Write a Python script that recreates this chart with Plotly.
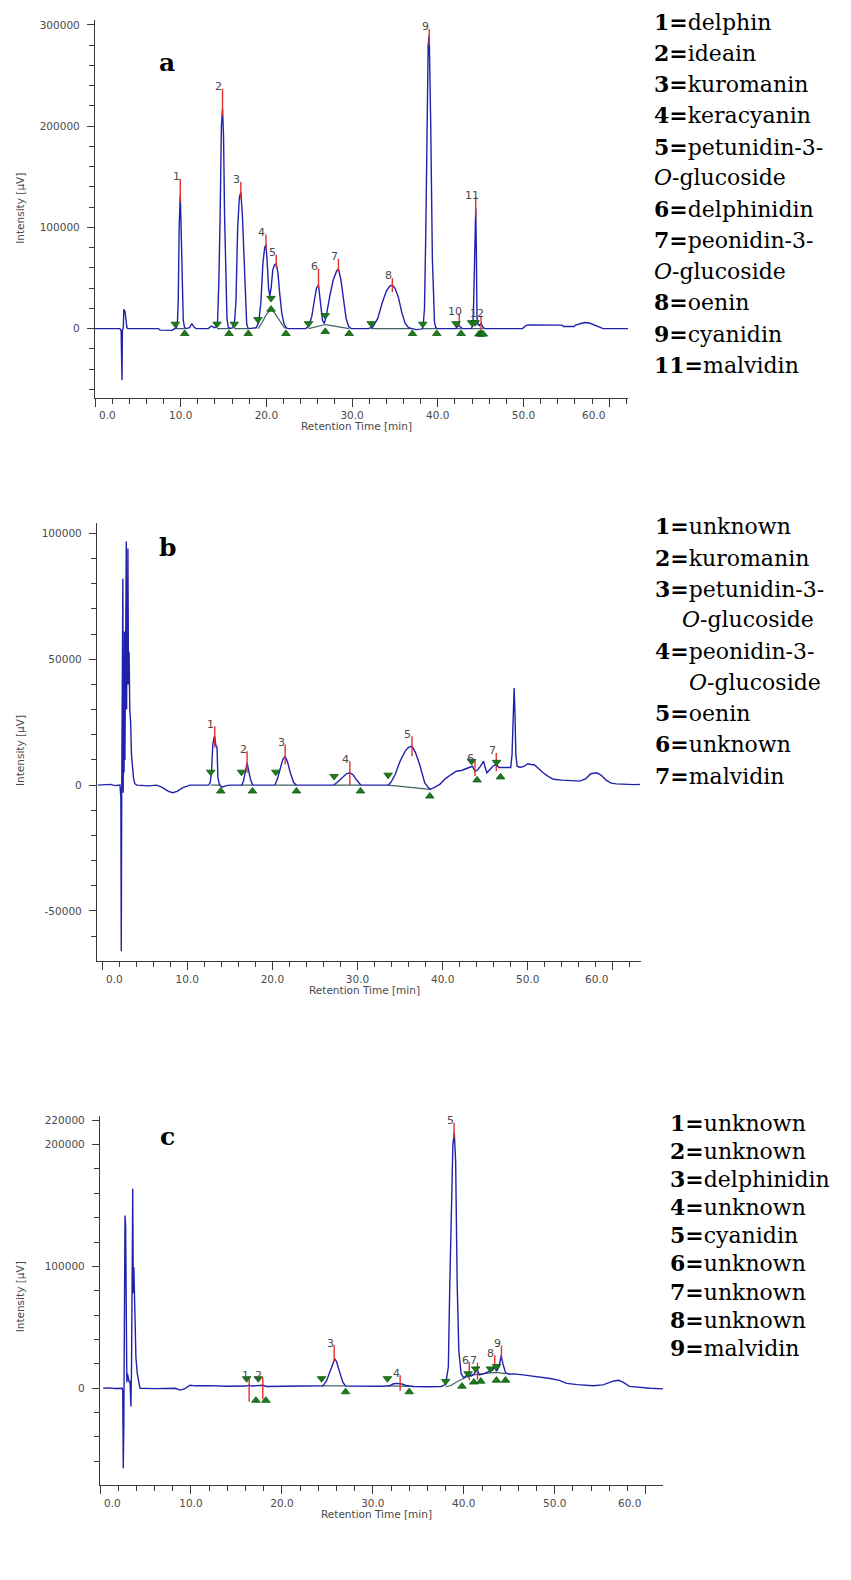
import plotly.graph_objects as go

WIN_W, WIN_H = 851, 1580
OFF = 8                      # default body margin of the page
FW, FH = WIN_W - OFF, WIN_H - OFF

# ---------------- Panel a ----------------
a_time = [0.0, 2.9, 3.05, 3.15, 3.2, 3.3, 3.36, 3.5, 3.6, 3.72, 3.85, 7.4, 7.6, 9.0, 9.3,
          9.5, 9.62, 9.72, 9.82, 9.9, 9.95, 10.02, 10.1, 10.2, 10.3, 10.45, 10.6,
          11.05, 11.3, 11.55, 11.8, 13.2, 13.6, 13.95,
          14.15, 14.3, 14.45, 14.6, 14.75, 14.88, 15.0, 15.12, 15.25, 15.4, 15.55, 15.75,
          16.1, 16.3, 16.45, 16.65, 16.85, 17.02, 17.2, 17.38, 17.55, 17.7, 17.85, 18.0,
          18.8, 19.1, 19.35, 19.6, 19.8, 19.95, 20.1, 20.25, 20.4, 20.55, 20.75, 20.95, 21.15,
          21.35, 21.55, 21.8, 22.05, 22.3, 22.5,
          24.6, 24.95, 25.3, 25.6, 25.85, 26.08, 26.3, 26.55, 26.75,
          27.0, 27.4, 27.8, 28.2, 28.41, 28.7, 29.0, 29.3, 29.6, 29.9,
          31.9, 32.4, 33.0, 33.5, 34.0, 34.4, 34.7, 35.0, 35.4, 35.8, 36.2, 36.6, 37.0, 37.5, 38.0,
          38.2, 38.3, 38.45, 38.6, 38.72, 38.88, 39.0, 39.1, 39.18, 39.37, 39.49, 39.62, 39.75, 39.9,
          42.1, 42.35, 42.5, 42.65, 42.85,
          43.9, 44.1, 44.2, 44.3, 44.38, 44.43, 44.5, 44.58, 44.7,
          44.85, 45.05, 45.3, 45.5,
          49.9, 50.2, 50.5, 54.5, 54.7, 55.9, 56.1, 56.7, 57.2, 57.7, 58.4, 59.0, 59.3, 62.2]
a_signal = [0, 0, -2000, -51000, -1000, 0, 19000, 17000, 10000, 1000, 0, 0, -1500, -1800, 0,
            1000, 6000, 30000, 100000, 128000, 132000, 110000, 75000, 30000, 8000, 1000, 0,
            1000, 5000, 1500, 0, 0, 2500, 800,
            1500, 6000, 45000, 110000, 200000, 217000, 190000, 112000, 45000, 10000, 1500, 0,
            800, 8000, 27000, 100000, 130000, 135000, 112000, 75000, 25000, 5000, 500, 0,
            800, 6000, 25000, 65000, 80000, 83000, 65000, 40000, 32000, 40000, 58000, 63000, 64000,
            55000, 35000, 15000, 5000, 1000, 0,
            0, 2500, 12000, 28000, 40000, 43000, 25000, 8000, 5000,
            13000, 32000, 48000, 57000, 59000, 48000, 28000, 10000, 2000, 0,
            0, 1500, 10000, 25000, 37000, 42000, 43000, 40000, 31000, 16000, 5000, 800, 0, -1000, -500,
            0, 3000, 20000, 93000, 165000, 280000, 290000, 250000, 201000, 69000, 27000, 6000, 1500, 0,
            0, 2000, 3500, 1500, 0,
            0, 3000, 30000, 66000, 110000, 119000, 80000, 10000, 4000,
            3000, 5000, 1000, 0,
            0, 2500, 3600, 3400, 2000, 2000, 3500, 5000, 6000, 5500, 3000, 500, 0, 0]
a_peak_labels = ["1", "2", "3", "4", "5", "6", "7", "8", "9", "10", "11", "12"]
a_apex_t = [9.95, 14.88, 17.02, 19.95, 21.15, 26.08, 28.41, 34.7, 39.0, 42.5, 44.43, 45.05]
a_mark_bot = [125000, 210000, 128000, 78000, 60000, 40000, 56000, 36000, 280000, 2000, 110000, -3000]
a_mark_top = [148000, 237000, 145000, 93000, 73000, 59000, 69000, 50000, 296000, 15000, 130000, 13000]
a_start_t = [9.38, 14.24, 16.26, 19.02, 20.54, 24.92, 26.87, 32.23, 38.25, 42.13, 43.96, 44.35]
a_start_v = [4500, 4500, 4500, 9000, 30000, 5000, 13000, 5000, 4500, 5000, 6000, 6000]
a_end_t = [10.47, 15.64, 17.89, 20.54, 22.28, 26.87, 29.66, 37.04, 39.88, 42.72, 44.81, 45.0, 45.15, 45.31]
a_end_v = [-5000, -5000, -5000, 19000, -5000, -3000, -5000, -5000, -5000, -5000, -5500, -5500, -5500, -5500]
a_base_t = [9.38, 10.47, None, 14.24, 15.64, None, 16.26, 17.89, None,
            19.02, 19.5, 20.0, 20.54, 21.0, 21.5, 22.0, 22.28, None,
            24.92, 25.5, 26.3, 26.87, 27.6, 28.5, 29.66, None, 32.23, 37.04, None,
            38.25, 39.88, None, 42.13, 42.72, None, 43.96, 45.31]
a_base_v = [0, 0, None, 0, 0, None, 0, 0, None,
            0, 6000, 14000, 19000, 15000, 8000, 2000, 0, None,
            0, 1000, 3000, 4000, 3000, 2000, 0, None, 0, 0, None,
            0, 0, None, 0, 0, None, 0, 0]
a_legend_num = ["1=", "2=", "3=", "4=", "5=", "", "6=", "7=", "", "8=", "9=", "11="]
a_legend_txt = ["delphin", "ideain", "kuromanin", "keracyanin", "petunidin-3-",
                "<i>O</i>-glucoside", "delphinidin", "peonidin-3-", "<i>O</i>-glucoside",
                "oenin", "cyanidin", "malvidin"]
a_legend_indent = [0, 0, 0, 0, 0, 0, 0, 0, 0, 0, 0, 0]

# ---------------- Panel b ----------------
b_time = [-0.5, 1.0, 1.5, 2.1, 2.2, 2.25, 2.3, 2.38, 2.44, 2.48, 2.52, 2.58, 2.63, 2.68, 2.73,
          2.78, 2.84, 2.88, 2.93, 2.98, 3.03, 3.1, 3.17, 3.25, 3.35, 3.45, 3.55, 3.7, 3.85, 4.1,
          5.5, 6.4, 7.0, 7.8, 8.3, 8.8, 9.5, 10.3,
          12.5, 12.7, 12.85, 13.0, 13.15, 13.23, 13.35, 13.5, 13.6, 13.8, 14.1, 14.5, 15.0,
          16.4, 16.6, 16.85, 17.03, 17.2, 17.45, 17.7,
          20.3, 20.6, 20.9, 21.2, 21.5, 21.8, 22.1, 22.5, 22.8,
          27.2, 27.6, 28.2, 28.7, 29.1, 29.5, 29.9, 30.4,
          33.6, 33.9, 34.4, 35.0, 35.6, 36.0, 36.4, 36.8, 37.3, 37.9, 38.5, 39.0, 39.7,
          40.3, 41.0, 41.6, 42.2, 42.7, 43.2, 43.5, 43.8, 44.1, 44.45, 44.8, 45.0, 45.2, 45.5,
          45.9, 46.3, 46.6, 47.0, 47.5, 48.0, 48.15, 48.3, 48.4, 48.5, 48.6, 48.75, 49.1, 49.6,
          50.0, 50.4, 50.8, 51.3, 51.8, 52.4, 53.0, 54.0, 55.0, 56.1, 56.8, 57.4, 58.1, 58.6,
          59.2, 59.8, 60.4, 61.5, 62.5, 63.2]
b_signal = [0, 300, -200, 0, -5000, -66000, -4000, 62000, 82000, -3000, 40000, 5000, 61000, 10000, 50000,
            20000, 96800, 30000, 75000, 40000, 94000, 40000, 53000, 30000, 25000, 12000, 7000, 2500, 500, 0,
            -300, 0, -800, -2500, -3000, -2500, -1000, 0,
            0, 1000, 5500, 16000, 19000, 19400, 16000, 14800, 3000, 0, -800, -300, 0,
            0, 1500, 6000, 8800, 6000, 2000, 0,
            0, 2500, 6900, 10000, 11500, 9000, 5000, 1000, 0,
            0, 1000, 3000, 4500, 4900, 4000, 2000, 0,
            0, 1000, 4000, 9500, 13500, 15000, 15500, 13000, 8200, 900, -1700, -1000, 400,
            2500, 4200, 5500, 5800, 6500, 6900, 7500, 5500, 6000, 7500, 9500, 7000, 4900, 6000,
            7500, 8200, 7000, 7000, 6900, 7000, 12000, 25000, 38600, 28000, 12000, 7500, 7000, 7500,
            8500, 8200, 8000, 6500, 4900, 3500, 2300, 2000, 1800, 1600, 2500, 4500, 4900, 4000,
            2000, 800, 500, 300, 200, 300]
b_peak_labels = ["1", "2", "3", "4", "5", "6", "7"]
b_apex_t = [13.23, 17.03, 21.5, 29.1, 36.4, 43.8, 46.3]
b_mark_bot = [14800, 4900, 8200, 0, 11500, 3600, 5500]
b_mark_top = [23400, 13500, 16100, 9500, 19400, 9900, 12800]
b_start_t = [12.76, 16.37, 20.4, 27.25, 33.6, 43.4, 46.33]
b_start_v = [5200, 5200, 5200, 3500, 4000, 9500, 9100]
b_end_t = [13.94, 17.66, 22.83, 30.35, 38.5, 44.05, 46.8]
b_end_v = [-2400, -2400, -2400, -2400, -4400, 2000, 3200]
b_base_t = [12.76, 13.94, None, 16.37, 17.66, None, 20.4, 22.83, None, 27.25, 30.35, None, 33.6, 38.5]
b_base_v = [0, 0, None, 0, 0, None, 0, 0, None, 0, 0, None, 0, -1700]
b_legend_num = ["1=", "2=", "3=", "", "4=", "", "5=", "6=", "7="]
b_legend_txt = ["unknown", "kuromanin", "petunidin-3-", "<i>O</i>-glucoside", "peonidin-3-",
                "<i>O</i>-glucoside", "oenin", "unknown", "malvidin"]
b_legend_indent = [0, 0, 0, 27, 0, 34, 0, 0, 0]

# ---------------- Panel c ----------------
c_time = [0.36, 1.0, 1.6, 2.2, 2.45, 2.5, 2.56, 2.62, 2.68, 2.75, 2.82, 2.88, 2.95, 3.02, 3.1,
          3.2, 3.3, 3.4, 3.47, 3.52, 3.6, 3.66, 3.72, 3.78, 3.85, 3.95, 4.1, 4.25, 4.4,
          6.0, 8.3, 8.8, 9.3, 9.9, 10.5, 12.0, 14.0, 16.0, 16.4, 16.7, 17.9, 18.3, 20.0,
          24.0, 24.5, 24.9, 25.3, 25.6, 25.8, 26.0, 26.4, 26.7, 27.0, 29.0, 31.0,
          31.8, 32.2, 32.6, 33.2, 33.8, 34.5, 36.0, 37.5,
          38.0, 38.15, 38.3, 38.46, 38.65, 38.8, 38.95, 39.1, 39.27, 39.45, 39.7,
          40.0, 40.4, 40.6, 40.8, 41.1, 41.45, 41.7, 42.2, 42.8, 43.2, 43.4, 43.6, 43.9, 44.1,
          44.3, 44.6, 45.0, 45.5, 46.5, 47.5, 48.4, 49.5, 50.5, 51.3, 52.5, 54.2, 55.3, 55.8,
          56.5, 57.0, 57.5, 58.2, 59.5, 60.5, 61.9]
c_signal = [0, 300, -200, 200, 0, -3000, -65600, -29000, 130000, 141800, 133000, 20000, 5000, 12000, 9000,
            5000, 6000, -15000, 20000, 78000, 163700, 78000, 99400, 80000, 39300, 25000, 12000, 4000, 0,
            -300, 0, -1500, -500, 2500, 2000, 2200, 1600, 1800, 2500, 1800, 2500, 1500, 1600,
            1800, 2000, 6000, 13400, 20000, 24300, 22000, 12000, 5000, 1800, 1500, 1600,
            2000, 3500, 4000, 3500, 2000, 1500, 1200, 1500,
            3000, 9000, 17500, 86000, 154000, 200000, 210000, 187000, 86000, 31000, 12000,
            8500, 11000, 13500, 10000, 11500, 15500, 11000, 12000, 14000, 15000, 17500, 14000, 18000, 27000,
            20000, 12500, 11500, 11800, 11000, 10000, 9300, 8000, 6500, 4000, 3000, 2000, 2800, 4000,
            6000, 6500, 5000, 1500, 500, 0, -500]
c_peak_labels = ["1", "2", "3", "4", "5", "6", "7", "8", "9"]
c_apex_t = [16.4, 17.9, 25.75, 33.0, 38.93, 40.6, 41.5, 43.4, 44.14]
c_mark_bot = [-11000, -9000, 22000, -2000, 205000, 6500, 7000, 17500, 24300]
c_mark_top = [9000, 9000, 35200, 10600, 218000, 21500, 21000, 27000, 35000]
c_start_t = [16.12, 17.4, 24.36, 31.6, 38.0, 40.47, 41.3, 42.93, 43.59]
c_start_v = [8000, 8000, 8000, 8000, 5700, 12000, 16000, 16000, 18000]
c_end_t = [17.14, 18.24, 27.0, 34.0, 39.8, 41.1, 41.87, 43.59, 44.58]
c_end_v = [-10000, -10000, -3000, -3000, 1600, 5000, 5700, 6500, 6500]
c_base_t = [24.36, 27.0, None, 31.6, 34.0, None, 38.0, 38.6, 39.3, 40.0, 40.5, 41.0, 41.5, 42.5, 43.5, 44.58]
c_base_v = [2000, 2000, None, 2000, 1500, None, 1000, 2500, 5500, 8500, 10000, 11000, 11500, 12500, 13000, 12000]
c_legend_num = ["1=", "2=", "3=", "4=", "5=", "6=", "7=", "8=", "9="]
c_legend_txt = ["unknown", "unknown", "delphinidin", "unknown", "cyanidin", "unknown",
                "unknown", "unknown", "malvidin"]
c_legend_indent = [0, 0, 0, 0, 0, 0, 0, 0, 0]

x_major = [0, 10, 20, 30, 40, 50, 60]
x_major_text = ["", "10.0", "20.0", "30.0", "40.0", "50.0", ""]

# ---------------- styles / layout geometry (window pixels) ----------------
BLUE = "#2121ad"
RED = "#e2302a"
GREEN = "#1d7a1d"
BASE = "#3d6464"
AXC = "#3a3a3a"
TICKC = "#4a4a4a"

panels = [
    dict(sfx="", time=a_time, sig=a_signal, labels=a_peak_labels, apex=a_apex_t,
         mbot=a_mark_bot, mtop=a_mark_top, st=a_start_t, sv=a_start_v, et=a_end_t, ev=a_end_v,
         bt=a_base_t, bv=a_base_v,
         xpx=(95, 628), ypx=(18, 396), xr=[0, 62.2], yr=[-68100, 304900],
         ytv=[0, 100000, 200000, 300000], ytt=["0", "100000", "200000", "300000"],
         yminor=list(range(-60000, 300001, 20000)),
         letter="a", letter_px=(167, 61), ytitle_y=207,
         lnum=a_legend_num, ltxt=a_legend_txt, lind=a_legend_indent, lx=652, ly0=20, ldy=31.2),
    dict(sfx="2", time=b_time, sig=b_signal, labels=b_peak_labels, apex=b_apex_t,
         mbot=b_mark_bot, mtop=b_mark_top, st=b_start_t, sv=b_start_v, et=b_end_t, ev=b_end_v,
         bt=b_base_t, bv=b_base_v,
         xpx=(97, 641), ypx=(522, 960), xr=[-0.6, 63.3], yr=[-69800, 104000],
         ytv=[-50000, 0, 50000, 100000], ytt=["-50000", "0", "50000", "100000"],
         yminor=list(range(-60000, 100001, 10000)),
         letter="b", letter_px=(167, 546), ytitle_y=750,
         lnum=b_legend_num, ltxt=b_legend_txt, lind=b_legend_indent, lx=653, ly0=525, ldy=31.2),
    dict(sfx="3", time=c_time, sig=c_signal, labels=c_peak_labels, apex=c_apex_t,
         mbot=c_mark_bot, mtop=c_mark_top, st=c_start_t, sv=c_start_v, et=c_end_t, ev=c_end_v,
         bt=c_base_t, bv=c_base_v,
         xpx=(100, 663), ypx=(1115, 1485), xr=[0, 61.9], yr=[-79500, 223800],
         ytv=[0, 100000, 200000, 220000], ytt=["0", "100000", "200000", "220000"],
         yminor=list(range(-60000, 220001, 20000)),
         letter="c", letter_px=(167, 1136), ytitle_y=1297,
         lnum=c_legend_num, ltxt=c_legend_txt, lind=c_legend_indent, lx=668, ly0=1122, ldy=28.2),
]

fig = go.Figure()
annotations = []
layout_axes = {}


def px_x(p):
    return (p - OFF) / FW


def px_y(p):
    return 1 - (p - OFF) / FH


for P in panels:
    xa = "x" + P["sfx"]
    ya = "y" + P["sfx"]
    fig.add_trace(go.Scatter(x=P["bt"], y=P["bv"], mode="lines", xaxis=xa, yaxis=ya,
                             line=dict(color=BASE, width=1.2), hoverinfo="skip"))
    fig.add_trace(go.Scatter(x=P["time"], y=P["sig"], mode="lines", xaxis=xa, yaxis=ya,
                             line=dict(color=BLUE, width=1.4)))
    rx, ry = [], []
    for t, b, tp in zip(P["apex"], P["mbot"], P["mtop"]):
        rx += [t, t, None]
        ry += [b, tp, None]
    fig.add_trace(go.Scatter(x=rx, y=ry, mode="lines", xaxis=xa, yaxis=ya,
                             line=dict(color=RED, width=1.4), hoverinfo="skip"))
    fig.add_trace(go.Scatter(x=P["st"], y=P["sv"], mode="markers", xaxis=xa, yaxis=ya,
                             marker=dict(symbol="triangle-down", size=7.5, color=GREEN,
                                         line=dict(color="#0f5a0f", width=0.8))))
    fig.add_trace(go.Scatter(x=P["et"], y=P["ev"], mode="markers", xaxis=xa, yaxis=ya,
                             marker=dict(symbol="triangle-up", size=7.5, color=GREEN,
                                         line=dict(color="#0f5a0f", width=0.8))))
    for lab, t, tp in zip(P["labels"], P["apex"], P["mtop"]):
        annotations.append(dict(x=t, y=tp, xref=xa, yref=ya, text=lab, showarrow=False,
                                xanchor="center", yanchor="middle", xshift=-4, yshift=2,
                                font=dict(family="DejaVu Sans", size=11, color="#4a4a4a")))
    x0, x1 = P["xpx"]
    y0, y1 = P["ypx"]
    layout_axes["xaxis" + P["sfx"]] = dict(
        domain=[px_x(x0), px_x(x1)], anchor=ya, range=P["xr"], showgrid=False, zeroline=False,
        showline=True, linecolor=AXC, linewidth=1.3, ticks="outside", ticklen=8, tickwidth=1.2,
        tickcolor=AXC, tickmode="array", tickvals=x_major, ticktext=x_major_text,
        tickfont=dict(family="DejaVu Sans", size=10.5, color=TICKC),
        minor=dict(tickmode="linear", tick0=0, dtick=2, ticks="outside", ticklen=5,
                   tickcolor=AXC, tickwidth=1.1, showgrid=False))
    layout_axes["yaxis" + P["sfx"]] = dict(
        domain=[px_y(y1), px_y(y0)], anchor=xa, range=P["yr"], showgrid=False, zeroline=False,
        showline=True, linecolor=AXC, linewidth=1.3, ticks="outside", ticklen=7, tickwidth=1.2,
        tickcolor=AXC, tickmode="array", tickvals=P["ytv"], ticktext=P["ytt"],
        ticklabelstandoff=5,
        tickfont=dict(family="DejaVu Sans", size=10.5, color=TICKC),
        minor=dict(tickmode="array", tickvals=P["yminor"], ticks="outside", ticklen=5,
                   tickcolor=AXC, tickwidth=1.1, showgrid=False))
    for val, txt, sh in [(0, "0.0", 12), (60, "60.0", -16)]:
        annotations.append(dict(x=val, y=px_y(y1 + 10), xref=xa, yref="paper", text=txt,
                                showarrow=False, xanchor="center", yanchor="top", xshift=sh,
                                font=dict(family="DejaVu Sans", size=10.5, color=TICKC)))
    annotations.append(dict(x=px_x(20), y=px_y(P["ytitle_y"]), xref="paper", yref="paper",
                            text="Intensity [µV]", textangle=-90, showarrow=False,
                            xanchor="center", yanchor="middle",
                            font=dict(family="DejaVu Sans", size=10.5, color=TICKC)))
    annotations.append(dict(x=px_x((x0 + x1) / 2 - 5), y=px_y(y1 + 29), xref="paper", yref="paper",
                            text="Retention Time [min]", showarrow=False,
                            xanchor="center", yanchor="middle",
                            font=dict(family="DejaVu Sans", size=10.5, color=TICKC)))
    lx, lyy = P["letter_px"]
    annotations.append(dict(x=px_x(lx), y=px_y(lyy), xref="paper", yref="paper",
                            text="<b>" + P["letter"] + "</b>", showarrow=False,
                            xanchor="center", yanchor="middle",
                            font=dict(family="DejaVu Serif", size=25, color="black")))
    for i, (num, txt, ind) in enumerate(zip(P["lnum"], P["ltxt"], P["lind"])):
        label = ("<b>" + num + "</b>" if num else "") + txt
        annotations.append(dict(x=px_x(P["lx"] + ind), y=px_y(P["ly0"] + i * P["ldy"]),
                                xref="paper", yref="paper", text=label, showarrow=False,
                                xanchor="left", yanchor="middle",
                                font=dict(family="DejaVu Serif", size=22, color="black")))

fig.update_layout(width=FW, height=FH, margin=dict(l=0, r=0, t=0, b=0),
                  paper_bgcolor="white", plot_bgcolor="white", showlegend=False,
                  annotations=annotations, **layout_axes)

fig.write_html("out.html")
